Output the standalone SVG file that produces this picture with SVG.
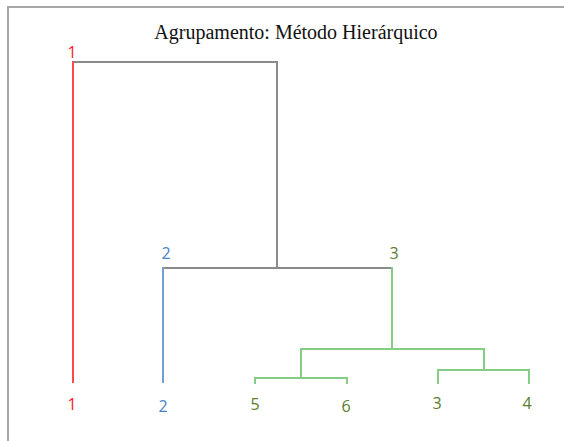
<svg xmlns="http://www.w3.org/2000/svg" width="564" height="441" viewBox="0 0 564 441">
<style>
.ln{fill:none;stroke-width:2;stroke-linecap:square}
.gray{stroke:#8a8a8a}
.red{stroke:#ff4a4a}
.blue{stroke:#6fa0d6}
.green{stroke:#85cc85}
.lbl{font-family:"Open Sans","Liberation Sans",sans-serif;font-size:16px;text-anchor:middle}
.tr{fill:#ff1a1a}
.tb{fill:#4a7fc4}
.tg{fill:#5a7d2e}
.title{font-family:"Liberation Serif",serif;font-size:20px;text-anchor:middle;fill:#111}
</style>
<rect x="0" y="0" width="564" height="441" fill="#ffffff"/>
<rect x="8" y="7" width="570" height="450" fill="#ffffff" stroke="#a6a6a6" stroke-width="2"/>
<text class="title" x="296" y="39">Agrupamento: Método Hierárquico</text>
<g id="connectors">
<path class="ln gray" d="M73,62 H277 V268"/>
<path class="ln gray" d="M163,268 H392"/>
<path class="ln red" d="M73,62 V382"/>
<path class="ln blue" d="M163,268 V382"/>
<path class="ln green" d="M392,268 V349 M301,349 H484 M301,349 V378 M255,383 V378 H347 V383 M484,349 V370 M438,383 V370 H529 V383"/>
</g>
<g id="node-top-1"><text class="lbl tr" x="72" y="58">1</text></g>
<g id="node-top-2"><text class="lbl tb" x="166" y="259">2</text></g>
<g id="node-top-3"><text class="lbl tg" x="394" y="259">3</text></g>
<g id="leaf-1"><text class="lbl tr" x="72" y="410">1</text></g>
<g id="leaf-2"><text class="lbl tb" x="163" y="412">2</text></g>
<g id="leaf-5"><text class="lbl tg" x="255" y="410">5</text></g>
<g id="leaf-6"><text class="lbl tg" x="346" y="412">6</text></g>
<g id="leaf-3"><text class="lbl tg" x="437" y="409">3</text></g>
<g id="leaf-4"><text class="lbl tg" x="527" y="409">4</text></g>
</svg>
